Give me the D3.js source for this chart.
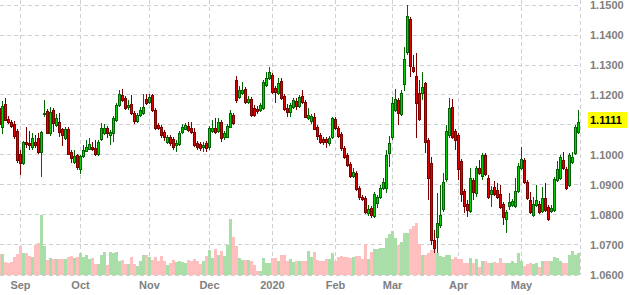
<!DOCTYPE html>
<html><head><meta charset="utf-8">
<script src="https://cdn.jsdelivr.net/npm/d3@7"></script>
<style>html,body{margin:0;padding:0;background:#fff;overflow:hidden}</style>
</head><body><svg id="c" width="630" height="295"></svg>
<script>
// ---- categories (trading calendar) ----
const startDate = "2019-08-22";
const endDate = "2020-05-29";
const holidays = ["2019-09-02","2019-11-28","2019-12-25","2020-01-01","2020-01-20","2020-02-17","2020-04-10","2020-05-25"];
const monthLabels = ["Sep","Oct","Nov","Dec","2020","Feb","Mar","Apr","May"];
const priceTicks = [1.06,1.07,1.08,1.09,1.10,1.11,1.12,1.13,1.14,1.15];
const lastPriceLabel = "1.1111";

// ---- series values ----
const open = [
1.1157,1.1093,1.1170,1.1120,1.1110,1.1103,1.1080,1.1003,1.0973,1.1043,
1.1040,1.1027,1.1043,1.1057,1.1010,1.1137,1.1147,1.1073,1.1150,1.1100,
1.1110,1.1087,1.1057,1.1087,1.1010,1.0977,1.1000,1.0953,1.0997,1.1013,
1.1020,1.1027,1.1023,1.1003,1.1053,1.1073,1.1090,1.1067,1.1073,1.1117,
1.1167,1.1200,1.1190,1.1160,1.1170,1.1140,1.1113,1.1133,1.1140,1.1187,
1.1177,1.1200,1.1150,1.1100,1.1093,1.1077,1.1043,1.1060,1.1053,1.1033,
1.1037,1.1077,1.1087,1.1097,1.1090,1.1077,1.1040,1.1037,1.1027,1.1040,
1.1027,1.1080,1.1090,1.1080,1.1110,1.1060,1.1060,1.1093,1.1133,1.1250,
1.1193,1.1207,1.1220,1.1177,1.1187,1.1157,1.1153,1.1150,1.1157,1.1233,
1.1257,1.1267,1.1223,1.1207,1.1247,1.1197,1.1157,1.1143,1.1160,1.1180,
1.1163,1.1197,1.1177,1.1123,1.1113,1.1127,1.1093,1.1067,1.1053,1.1053,
1.1040,1.1060,1.1120,1.1090,1.1070,1.1023,1.1000,1.0970,1.0930,1.0940,
1.0890,1.0860,1.0857,1.0807,1.0823,1.0797,1.0840,1.0860,1.0890,1.0890,
1.1007,1.1060,1.1150,1.1183,1.1137,1.1237,1.1343,1.1453,1.1293,1.1263,
1.1207,1.1207,1.1240,1.1050,1.0973,1.0717,1.0727,1.0767,1.0820,1.0920,
1.1067,1.1160,1.1080,1.1067,1.0980,1.0880,1.0837,1.0813,1.0917,1.0873,
1.0957,1.0930,1.1000,1.0923,1.0870,1.0893,1.0883,1.0870,1.0837,1.0787,
1.0830,1.0833,1.0830,1.0880,1.0957,1.0983,1.0910,1.0850,1.0800,1.0833,
1.0837,1.0813,1.0857,1.0827,1.0813,1.0817,1.0917,1.0923,1.0983,1.0953,
1.0900,1.0977,1.1007,1.1077];
const high = [
1.1167,1.1180,1.1190,1.1130,1.1117,1.1113,1.1087,1.1017,1.1047,1.1093,
1.1080,1.1073,1.1067,1.1073,1.1080,1.1183,1.1153,1.1160,1.1157,1.1137,
1.1140,1.1090,1.1093,1.1093,1.1017,1.1017,1.1003,1.1000,1.1033,1.1050,
1.1057,1.1043,1.1050,1.1050,1.1107,1.1103,1.1097,1.1083,1.1130,1.1173,
1.1217,1.1220,1.1197,1.1183,1.1200,1.1147,1.1140,1.1160,1.1203,1.1203,
1.1203,1.1203,1.1157,1.1107,1.1100,1.1083,1.1067,1.1067,1.1060,1.1050,
1.1080,1.1103,1.1107,1.1110,1.1110,1.1090,1.1047,1.1043,1.1043,1.1047,
1.1097,1.1117,1.1123,1.1123,1.1117,1.1080,1.1103,1.1150,1.1140,1.1263,
1.1230,1.1243,1.1227,1.1197,1.1193,1.1167,1.1163,1.1173,1.1250,1.1277,
1.1293,1.1273,1.1230,1.1257,1.1257,1.1203,1.1170,1.1173,1.1190,1.1190,
1.1200,1.1217,1.1183,1.1157,1.1137,1.1140,1.1100,1.1073,1.1060,1.1060,
1.1063,1.1127,1.1127,1.1097,1.1077,1.1030,1.1007,1.0977,1.0957,1.0947,
1.0897,1.0867,1.0863,1.0833,1.0830,1.0877,1.0867,1.0900,1.0923,1.1017,
1.1063,1.1193,1.1220,1.1190,1.1217,1.1360,1.1500,1.1460,1.1333,1.1340,
1.1250,1.1277,1.1243,1.1057,1.0993,1.0750,1.0873,1.0900,1.0940,1.1100,
1.1190,1.1187,1.1087,1.1073,1.0987,1.0887,1.0850,1.0957,1.0923,1.0963,
1.0983,1.1007,1.1007,1.0933,1.0897,1.0913,1.0907,1.0900,1.0843,1.0817,
1.0873,1.0853,1.0923,1.0973,1.1027,1.0990,1.0917,1.0877,1.0860,1.0900,
1.0847,1.0893,1.0907,1.0833,1.0833,1.0927,1.0980,1.1000,1.1010,1.0960,
1.1007,1.1010,1.1100,1.1150];
const low = [
1.1090,1.1070,1.1113,1.1103,1.1090,1.1053,1.0973,1.0933,1.0967,1.1023,
1.1017,1.1017,1.1023,1.1003,1.0927,1.1127,1.1070,1.1063,1.1077,1.1093,
1.1060,1.1030,1.1050,1.1000,1.0973,1.0970,1.0950,1.0937,1.0990,1.1010,
1.1017,1.1013,1.0997,1.0997,1.1047,1.1067,1.1057,1.1033,1.1043,1.1110,
1.1160,1.1177,1.1150,1.1150,1.1133,1.1103,1.1107,1.1127,1.1133,1.1167,
1.1170,1.1143,1.1083,1.1083,1.1057,1.1047,1.1037,1.1030,1.1017,1.1010,
1.1030,1.1070,1.1083,1.1077,1.1070,1.1027,1.1017,1.1013,1.1010,1.1010,
1.1017,1.1073,1.1070,1.1073,1.1043,1.1050,1.1057,1.1090,1.1100,1.1173,
1.1187,1.1200,1.1170,1.1170,1.1127,1.1127,1.1137,1.1143,1.1150,1.1227,
1.1250,1.1203,1.1173,1.1200,1.1183,1.1147,1.1127,1.1127,1.1153,1.1150,
1.1157,1.1170,1.1123,1.1117,1.1103,1.1083,1.1050,1.1037,1.1033,1.1023,
1.1030,1.1053,1.1083,1.1057,1.1013,1.0987,1.0960,1.0923,1.0923,1.0880,
1.0850,1.0847,1.0803,1.0797,1.0790,1.0790,1.0823,1.0853,1.0883,1.0873,
1.0960,1.1050,1.1143,1.1100,1.1130,1.1213,1.1333,1.1260,1.1273,1.1057,
1.1113,1.1183,1.1007,1.0850,1.0700,1.0673,1.0673,1.0757,1.0810,1.0910,
1.1057,1.1053,1.1017,1.0917,1.0843,1.0807,1.0793,1.0807,1.0850,1.0860,
1.0933,1.0917,1.0930,1.0853,1.0827,1.0863,1.0853,1.0820,1.0767,1.0740,
1.0817,1.0827,1.0823,1.0873,1.0950,1.0903,1.0850,1.0803,1.0793,1.0827,
1.0803,1.0807,1.0810,1.0780,1.0807,1.0810,1.0910,1.0917,1.0950,1.0883,
1.0893,1.0970,1.1000,1.1070];
const close = [
1.1103,1.1163,1.1117,1.1110,1.1097,1.1063,1.0983,1.0973,1.1043,1.1037,
1.1033,1.1057,1.1033,1.1010,1.1077,1.1140,1.1073,1.1143,1.1107,1.1123,
1.1077,1.1067,1.1087,1.1003,1.0990,1.0997,1.0960,1.0997,1.1017,1.1027,
1.1037,1.1020,1.1003,1.1043,1.1090,1.1090,1.1073,1.1077,1.1123,1.1167,
1.1203,1.1183,1.1157,1.1167,1.1140,1.1113,1.1133,1.1150,1.1160,1.1173,
1.1193,1.1150,1.1090,1.1090,1.1067,1.1060,1.1060,1.1040,1.1027,1.1040,
1.1073,1.1093,1.1100,1.1083,1.1077,1.1033,1.1027,1.1023,1.1033,1.1023,
1.1090,1.1090,1.1077,1.1110,1.1057,1.1073,1.1097,1.1140,1.1107,1.1183,
1.1217,1.1217,1.1177,1.1187,1.1133,1.1133,1.1147,1.1167,1.1243,1.1257,
1.1277,1.1210,1.1210,1.1240,1.1190,1.1153,1.1143,1.1167,1.1183,1.1163,
1.1193,1.1177,1.1127,1.1133,1.1130,1.1087,1.1063,1.1043,1.1043,1.1043,
1.1057,1.1123,1.1090,1.1063,1.1023,1.0993,1.0967,1.0930,1.0943,1.0887,
1.0860,1.0853,1.0810,1.0820,1.0800,1.0870,1.0860,1.0890,1.0910,1.1000,
1.1040,1.1173,1.1187,1.1140,1.1207,1.1320,1.1463,1.1297,1.1280,1.1173,
1.1120,1.1227,1.1043,1.0923,1.0717,1.0690,1.0773,1.0800,1.0910,1.1080,
1.1157,1.1060,1.1050,1.0953,1.0870,1.0830,1.0817,1.0923,1.0877,1.0957,
1.0940,1.1000,1.0937,1.0860,1.0883,1.0870,1.0860,1.0827,1.0793,1.0810,
1.0843,1.0847,1.0880,1.0963,1.0987,1.0910,1.0857,1.0810,1.0837,1.0850,
1.0810,1.0857,1.0817,1.0787,1.0823,1.0920,1.0953,1.0993,1.0957,1.0890,
1.1000,1.0993,1.1093,1.1111];
const volume = [
21,21,13,12,13,18,21,29,22,22,
19,18,30,32,60,29,15,17,16,16,
16,16,16,18,19,17,18,22,18,20,
16,17,11,11,20,23,10,23,22,23,
14,15,11,11,18,11,9,14,20,20,
18,15,18,14,19,14,10,12,15,13,
14,13,12,15,14,16,14,11,14,19,
25,17,26,20,24,19,30,56,38,29,
17,15,15,15,14,10,4,4,17,12,
12,17,17,14,20,20,14,16,13,14,
14,14,14,24,18,23,15,14,14,16,
16,22,14,18,19,18,18,17,18,19,
19,16,31,16,23,26,26,27,27,37,
41,44,37,30,33,42,42,46,49,52,
31,20,20,22,25,27,22,19,18,20,
20,16,18,16,16,12,12,17,12,16,
8,14,14,12,12,13,12,17,12,12,
12,14,12,22,14,9,11,12,11,12,
8,14,14,14,14,18,17,14,12,12,
20,24,20,22];

// ---- build ----
const parse = d3.timeParse("%Y-%m-%d"), fmtDay = d3.timeFormat("%Y-%m-%d");
const hol = new Set(holidays);
const dates = d3.timeDay.range(parse(startDate), d3.timeDay.offset(parse(endDate), 1))
  .filter(d => d.getDay() !== 0 && d.getDay() !== 6 && !hol.has(fmtDay(d)));
const n = Math.min(dates.length, close.length);
const data = d3.range(n).map(i => ({i, date: dates[i], o: open[i], h: high[i], l: low[i], c: close[i], v: volume[i]}));

const svg = d3.select("#c");
const plotRight = 580, plotTop = 5, priceBottom = 275;
const x = d3.scaleBand().domain(d3.range(n)).range([-2, plotRight]);
const cx = i => x(i) + x.bandwidth() / 2;
const y = d3.scaleLinear().domain([1.06, 1.15]).range([priceBottom, plotTop]);
const yv = d3.scaleLinear().domain([0, 60]).range([priceBottom, 215]);
const crisp = v => Math.round(v) + 0.5;

// month ticks: first trading day of each month
const monthStarts = data.filter((d, k) => k > 0 && d.date.getMonth() !== data[k - 1].date.getMonth());
const ticks = monthStarts.map((d, k) => ({i: d.i, label: monthLabels[k]})).filter(t => t.label);

// grid
const grid = svg.append("g").attr("stroke", "#cfcfcf").attr("stroke-width", 1).attr("stroke-dasharray", "4,3").attr("fill", "none");
grid.selectAll("line.h").data(priceTicks).join("line")
  .attr("x1", 0).attr("x2", plotRight).attr("y1", d => crisp(y(d) - 0.5)).attr("y2", d => crisp(y(d) - 0.5));
grid.selectAll("line.v").data(ticks).join("line")
  .attr("x1", d => cx(d.i)).attr("x2", d => cx(d.i)).attr("y1", 0).attr("y2", priceBottom);
grid.append("line").attr("x1", plotRight + 0.5).attr("x2", plotRight + 0.5).attr("y1", 0).attr("y2", priceBottom);

// volume
svg.append("g").selectAll("rect").data(data).join("rect")
  .attr("x", d => x(d.i)).attr("width", x.bandwidth())
  .attr("y", d => Math.round(yv(d.v))).attr("height", d => priceBottom - Math.round(yv(d.v)))
  .attr("fill", d => d.c >= d.o ? "#a9dea9" : "#ffbfbf");

// candles
const up = "#00d000", upEdge = "#006400", dn = "#e00000", dnEdge = "#7a0000";
const cg = svg.append("g");
cg.selectAll("line").data(data).join("line")
  .attr("x1", d => cx(d.i)).attr("x2", d => cx(d.i))
  .attr("y1", d => Math.round(y(d.h))).attr("y2", d => Math.round(y(d.l)))
  .attr("stroke", d => d.c >= d.o ? upEdge : dnEdge).attr("stroke-width", 1);
cg.selectAll("rect").data(data).join("rect")
  .attr("x", d => cx(d.i) - 1).attr("width", 2)
  .attr("y", d => crisp(y(Math.max(d.o, d.c))))
  .attr("height", d => Math.max(0, Math.round(y(Math.min(d.o, d.c))) - Math.round(y(Math.max(d.o, d.c)))))
  .attr("fill", d => d.c >= d.o ? up : dn)
  .attr("stroke", d => d.c >= d.o ? upEdge : dnEdge).attr("stroke-width", 1);

// last price marker position
const last = data[n - 1];
const markerY = Math.round(y(last.c)) - 2;

// right price axis (labels hidden behind the last-price marker are not drawn, as in the reference)
const fmtP = d3.format(".4f");
svg.append("g").selectAll("text").data(priceTicks.filter(p => Math.abs(y(p) - markerY) > 12)).join("text")
  .attr("x", 590).attr("y", d => y(d)).attr("dy", "0.35em")
  .attr("font-family", "Liberation Sans, Arial, sans-serif").attr("font-size", 11).attr("font-weight", "bold")
  .attr("fill", "#808080").text(d => fmtP(d));

const lg = svg.append("g");
lg.append("rect").attr("x", 588).attr("y", markerY - 8).attr("width", 39).attr("height", 16).attr("fill", "#ffff00");
lg.append("text").attr("x", 590).attr("y", markerY).attr("dy", "0.35em")
  .attr("font-family", "Liberation Sans, Arial, sans-serif").attr("font-size", 11).attr("font-weight", "bold")
  .attr("fill", "#000").text(lastPriceLabel);

// bottom month axis
svg.append("g").selectAll("text").data(ticks).join("text")
  .attr("x", d => cx(d.i)).attr("y", 289).attr("text-anchor", "middle")
  .attr("font-family", "Liberation Sans, Arial, sans-serif").attr("font-size", 11).attr("font-weight", "bold")
  .attr("fill", "#808080").text(d => d.label);
</script></body></html>
